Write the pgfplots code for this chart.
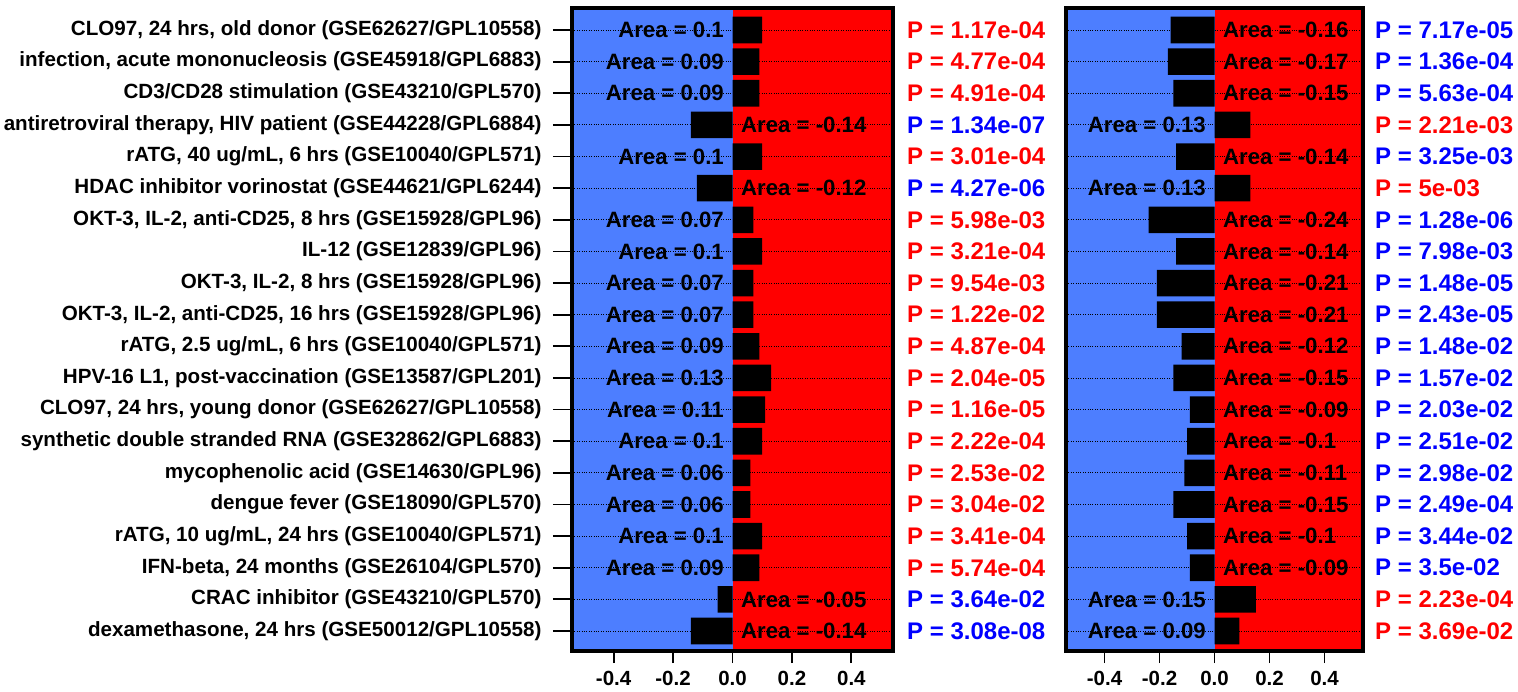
\documentclass[border=0pt]{standalone}
\usepackage{pgfplots}
\pgfplotsset{compat=1.18}
\usepackage{pgfplotstable}
\usepackage{fontspec}
\setmainfont{Liberation Sans}
\definecolor{bgblue}{RGB}{77,126,255}
\definecolor{bgred}{RGB}{255,0,0}
\definecolor{pblue}{RGB}{0,0,255}
\definecolor{pred}{RGB}{255,0,0}

\pgfplotstableread{
row left right
1  0.10 -0.16
2  0.09 -0.17
3  0.09 -0.15
4  -0.14 0.13
5  0.10 -0.14
6  -0.12 0.13
7  0.07 -0.24
8  0.10 -0.14
9  0.07 -0.21
10 0.07 -0.21
11 0.09 -0.12
12 0.13 -0.15
13 0.11 -0.09
14 0.10 -0.10
15 0.06 -0.11
16 0.06 -0.15
17 0.10 -0.10
18 0.09 -0.09
19 -0.05 0.15
20 -0.14 0.09
}\data

\newcommand\lab[2]{\ifdim #2pt<0pt
  \node[anchor=west,inner sep=0pt,xshift=8.5pt,font=\areafont] at (axis cs:0,#1) {Area = #2};%
  \else
  \node[anchor=east,inner sep=0pt,xshift=-8.5pt,font=\areafont] at (axis cs:0,#1) {Area = #2};%
  \fi}
\newcommand\plab[4]{\node[anchor=west,inner sep=0pt,xshift=#4,text=#3,font=\pfont] at (axis cs:0.54,#1) {P = #2};}
\newcommand\areafont{\fontsize{22.2}{25}\selectfont\bfseries}
\newcommand\pfont{\fontsize{24}{27}\selectfont\bfseries}

\pgfplotsset{
  panel/.style={
    scale only axis,
    height=643pt,
    anchor=south west,
    xmin=-0.54, xmax=0.54,
    ymin=0.304, ymax=20.632,
    y dir=reverse,
    axis on top,
    clip=false,
    xtick={-0.4,-0.2,0,0.2,0.4},
    xticklabels={-0.4,-0.2,0.0,0.2,0.4},
    ytick={1,...,20},
    tick align=outside,
    major tick length=12pt,
    xtick pos=bottom,
    ytick pos=left,
    axis line style={line width=3.4pt},
    tick style={line width=1.8pt,black},
    ymajorgrids,
    major grid style={dotted,black,line width=0.9pt},
    xticklabel style={font=\fontsize{20.5}{24}\selectfont\bfseries,yshift=-5pt},
    /pgf/number format/assume math mode=true,
  }
}

\begin{document}
\begin{tikzpicture}
\path[use as bounding box] (0pt,0pt) rectangle (1518pt,692pt);

\begin{axis}[panel, at={(572pt,41pt)}, width=321pt,
  yticklabels={
    {CLO97, 24 hrs, old donor (GSE62627/GPL10558)},
    {infection, acute mononucleosis (GSE45918/GPL6883)},
    {CD3/CD28 stimulation (GSE43210/GPL570)},
    {antiretroviral therapy, HIV patient (GSE44228/GPL6884)},
    {rATG, 40 ug/mL, 6 hrs (GSE10040/GPL571)},
    {HDAC inhibitor vorinostat (GSE44621/GPL6244)},
    {OKT-3, IL-2, anti-CD25, 8 hrs (GSE15928/GPL96)},
    {IL-12 (GSE12839/GPL96)},
    {OKT-3, IL-2, 8 hrs (GSE15928/GPL96)},
    {OKT-3, IL-2, anti-CD25, 16 hrs (GSE15928/GPL96)},
    {rATG, 2.5 ug/mL, 6 hrs (GSE10040/GPL571)},
    {HPV-16 L1, post-vaccination (GSE13587/GPL201)},
    {CLO97, 24 hrs, young donor (GSE62627/GPL10558)},
    {synthetic double stranded RNA (GSE32862/GPL6883)},
    {mycophenolic acid (GSE14630/GPL96)},
    {dengue fever (GSE18090/GPL570)},
    {rATG, 10 ug/mL, 24 hrs (GSE10040/GPL571)},
    {IFN-beta, 24 months (GSE26104/GPL570)},
    {CRAC inhibitor (GSE43210/GPL570)},
    {dexamethasone, 24 hrs (GSE50012/GPL10558)}},
  yticklabel style={font=\fontsize{20.6}{24}\selectfont\bfseries,xshift=-15pt},
  ytick style={/pgfplots/major tick length=19pt},
]
\fill[bgblue] (axis cs:-0.54,0.304) rectangle (axis cs:0,20.632);
\fill[bgred] (axis cs:0,0.304) rectangle (axis cs:0.54,20.632);
\addplot[xbar, bar width=0.84, bar shift=0pt, fill=black, draw=none] table[x=left,y=row] {\data};
\lab{1}{0.1}\lab{2}{0.09}\lab{3}{0.09}\lab{4}{-0.14}\lab{5}{0.1}
\lab{6}{-0.12}\lab{7}{0.07}\lab{8}{0.1}\lab{9}{0.07}\lab{10}{0.07}
\lab{11}{0.09}\lab{12}{0.13}\lab{13}{0.11}\lab{14}{0.1}\lab{15}{0.06}
\lab{16}{0.06}\lab{17}{0.1}\lab{18}{0.09}\lab{19}{-0.05}\lab{20}{-0.14}
\draw[line width=3.4pt,black] (rel axis cs:0,0) rectangle (rel axis cs:1,1);
\plab{1}{1.17e-04}{pred}{14pt}
\plab{2}{4.77e-04}{pred}{14pt}
\plab{3}{4.91e-04}{pred}{14pt}
\plab{4}{1.34e-07}{pblue}{14pt}
\plab{5}{3.01e-04}{pred}{14pt}
\plab{6}{4.27e-06}{pblue}{14pt}
\plab{7}{5.98e-03}{pred}{14pt}
\plab{8}{3.21e-04}{pred}{14pt}
\plab{9}{9.54e-03}{pred}{14pt}
\plab{10}{1.22e-02}{pred}{14pt}
\plab{11}{4.87e-04}{pred}{14pt}
\plab{12}{2.04e-05}{pred}{14pt}
\plab{13}{1.16e-05}{pred}{14pt}
\plab{14}{2.22e-04}{pred}{14pt}
\plab{15}{2.53e-02}{pred}{14pt}
\plab{16}{3.04e-02}{pred}{14pt}
\plab{17}{3.41e-04}{pred}{14pt}
\plab{18}{5.74e-04}{pred}{14pt}
\plab{19}{3.64e-02}{pblue}{14pt}
\plab{20}{3.08e-08}{pblue}{14pt}
\end{axis}

\begin{axis}[panel, at={(1066pt,41pt)}, width=297pt,
  yticklabels={}, ytick style={draw=none},
]
\fill[bgblue] (axis cs:-0.54,0.304) rectangle (axis cs:0,20.632);
\fill[bgred] (axis cs:0,0.304) rectangle (axis cs:0.54,20.632);
\addplot[xbar, bar width=0.84, bar shift=0pt, fill=black, draw=none] table[x=right,y=row] {\data};
\lab{1}{-0.16}\lab{2}{-0.17}\lab{3}{-0.15}\lab{4}{0.13}\lab{5}{-0.14}
\lab{6}{0.13}\lab{7}{-0.24}\lab{8}{-0.14}\lab{9}{-0.21}\lab{10}{-0.21}
\lab{11}{-0.12}\lab{12}{-0.15}\lab{13}{-0.09}\lab{14}{-0.1}\lab{15}{-0.11}
\lab{16}{-0.15}\lab{17}{-0.1}\lab{18}{-0.09}\lab{19}{0.15}\lab{20}{0.09}
\draw[line width=3.4pt,black] (rel axis cs:0,0) rectangle (rel axis cs:1,1);
\plab{1}{7.17e-05}{pblue}{12pt}
\plab{2}{1.36e-04}{pblue}{12pt}
\plab{3}{5.63e-04}{pblue}{12pt}
\plab{4}{2.21e-03}{pred}{12pt}
\plab{5}{3.25e-03}{pblue}{12pt}
\plab{6}{5e-03}{pred}{12pt}
\plab{7}{1.28e-06}{pblue}{12pt}
\plab{8}{7.98e-03}{pblue}{12pt}
\plab{9}{1.48e-05}{pblue}{12pt}
\plab{10}{2.43e-05}{pblue}{12pt}
\plab{11}{1.48e-02}{pblue}{12pt}
\plab{12}{1.57e-02}{pblue}{12pt}
\plab{13}{2.03e-02}{pblue}{12pt}
\plab{14}{2.51e-02}{pblue}{12pt}
\plab{15}{2.98e-02}{pblue}{12pt}
\plab{16}{2.49e-04}{pblue}{12pt}
\plab{17}{3.44e-02}{pblue}{12pt}
\plab{18}{3.5e-02}{pblue}{12pt}
\plab{19}{2.23e-04}{pred}{12pt}
\plab{20}{3.69e-02}{pred}{12pt}
\end{axis}
\end{tikzpicture}
\end{document}
